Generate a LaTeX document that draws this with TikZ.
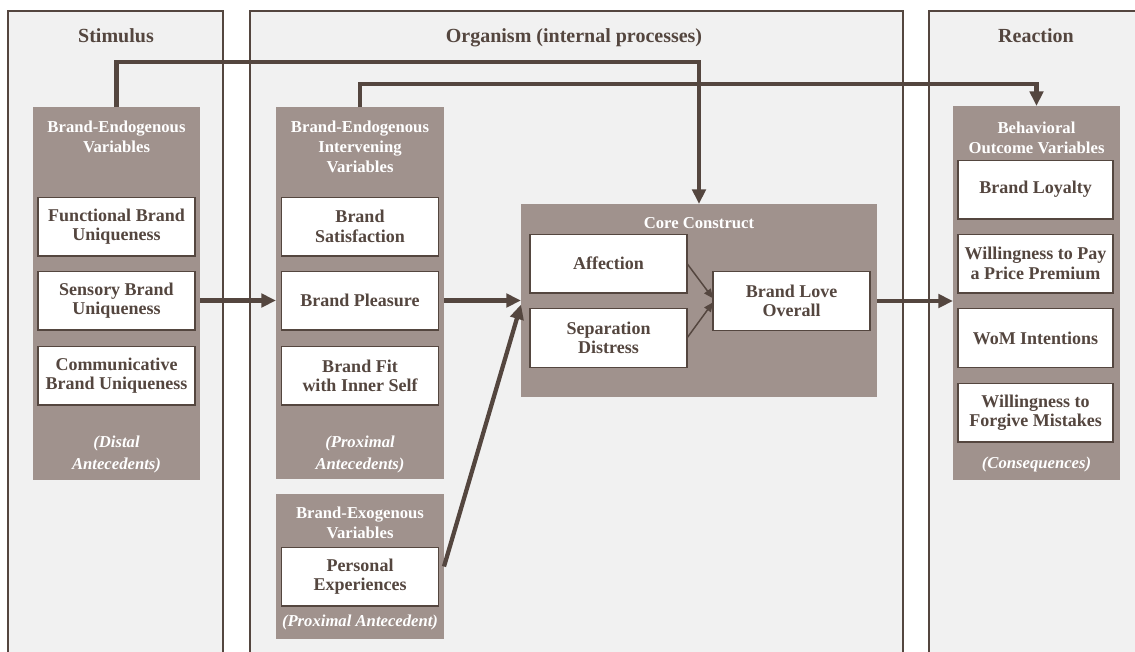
\documentclass[tikz,border=0pt]{standalone}
\usepackage{fontspec}
\setmainfont{Liberation Serif}
\usetikzlibrary{arrows.meta,fit}
\definecolor{panelc}{HTML}{F1F1F1}
\definecolor{groupc}{HTML}{A0928D}
\definecolor{inkc}{HTML}{54463F}
\tikzstyle{panel}=[draw=inkc,fill=panelc,line width=0.9pt]
\tikzstyle{head}=[text=inkc,anchor=base,font=\fontsize{15}{18}\selectfont\bfseries]
\tikzstyle{group}=[fill=groupc,inner sep=0pt,outer sep=0pt]
\tikzstyle{gtitle}=[text=white,align=center,font=\fontsize{12.5}{15}\selectfont\bfseries]
\tikzstyle{gnote}=[text=white,align=center,font=\fontsize{12.5}{16.5}\selectfont\bfseries\itshape]
\tikzstyle{item}=[draw=inkc,fill=white,line width=1pt,inner sep=0pt,outer sep=0pt,
	minimum width=117.75pt,minimum height=44pt,text=inkc,align=center,
	font=\fontsize{13.5}{14.5}\selectfont\bfseries]
\tikzstyle{flow}=[draw=inkc,line width=3.2pt,-{Triangle[length=11pt,width=10pt]}]
\tikzstyle{link}=[draw=inkc,line width=1.1pt,-{Triangle[length=7pt,width=6pt]}]

\begin{document}
\begin{tikzpicture}[x=0.75pt,y=-0.75pt]
	\useasboundingbox (0,0) rectangle (1135,651);
	\clip (0,0) rectangle (1135,651);
	
	% panels
	\draw[panel] (8,11) rectangle (223,660);
	\draw[panel] (250,11) rectangle (903,660);
	\draw[panel] (929,11) rectangle (1145,660);
	\node[head] (stimt) at (116,42) {Stimulus};
	\node[head] (orgt) at (574,42) {Organism (internal processes)};
	\node[head] (reat) at (1036,42) {Reaction};
	
	% groups
	\node[group,fit={(33,107) (200,480)}] (stimgrp) {};
	\node[group,fit={(276,107) (444,479)}] (intgrp) {};
	\node[group,fit={(276,494) (444,639)}] (exogrp) {};
	\node[group,fit={(521,204) (877,397)}] (coregrp) {};
	\node[group,fit={(953,106) (1120,480)}] (outgrp) {};
	
	\node[gtitle] (stimhd) at (116.5,137) {Brand-Endogenous\\Variables};
	\node[gtitle] (inthd) at (360,147) {Brand-Endogenous\\Intervening\\Variables};
	\node[gtitle] (exohd) at (360,523) {Brand-Exogenous\\Variables};
	\node[gtitle] (corehd) at (699,223) {Core Construct};
	\node[gtitle] (outhd) at (1036.5,138) {Behavioral\\Outcome Variables};
	
	\node[gnote] (stimft) at (116.5,454) {(Distal\\Antecedents)};
	\node[gnote] (intft) at (360,454) {(Proximal\\Antecedents)};
	\node[gnote] (exoft) at (360,622) {(Proximal Antecedent)};
	\node[gnote] (outft) at (1036.5,464) {(Consequences)};
	
	% items
	\node[item] (f1) at (116.5,226.5) {Functional Brand\\Uniqueness};
	\node[item] (f2) at (116.5,300.5) {Sensory Brand\\Uniqueness};
	\node[item] (f3) at (116.5,375.5) {Communicative\\Brand Uniqueness};
	
	\node[item] (i1) at (360,226.5) {Brand\\Satisfaction};
	\node[item] (i2) at (360,300.5) {Brand Pleasure};
	\node[item] (i3) at (360,375.5) {Brand Fit\\with Inner Self};
	\node[item] (pe) at (360,576.5) {Personal\\Experiences};
	
	\node[item] (aff) at (608.5,263.5) {Affection};
	\node[item] (sep) at (608.5,338) {Separation\\Distress};
	\node[item] (blo) at (791.5,301) {Brand Love\\Overall};
	
	\node[item,minimum width=116.25pt] (o1) at (1035.5,189.5) {Brand Loyalty};
	\node[item,minimum width=116.25pt] (o2) at (1035.5,263.5) {Willingness to Pay\\a Price Premium};
	\node[item,minimum width=116.25pt] (o3) at (1035.5,338) {WoM Intentions};
	\node[item,minimum width=116.25pt] (o4) at (1035.5,412.5) {Willingness to\\Forgive Mistakes};
	
	\coordinate (top1) at (0,62);
	\coordinate (top2) at (0,84);
	
	% connectors
	\draw[flow] (stimgrp.east |- f2) -- (intgrp.west |- f2);
	\draw[flow] (intgrp.east |- i2) -- (coregrp.west |- i2);
	\draw[flow] (exogrp.east) -- ([yshift=-3pt]coregrp.west);
	\draw[flow] (coregrp.east |- blo) -- (outgrp.west |- blo);
	\draw[flow] (intgrp.north) |- (outgrp.north |- top2) -- (outgrp.north);
	\draw[flow] (stimgrp.north) |- (coregrp.north |- top1) -- (coregrp.north);
	\draw[link] (aff.east) -- ([yshift=2pt]blo.west);
	\draw[link] (sep.east) -- ([yshift=-1pt]blo.west);
\end{tikzpicture}
\end{document}
